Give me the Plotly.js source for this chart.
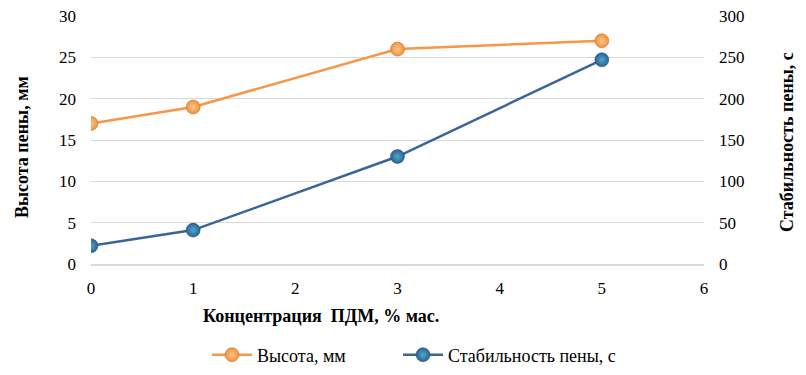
<!DOCTYPE html>
<html><head><meta charset="utf-8">
<script src="https://cdn.plot.ly/plotly-3.0.1.min.js"></script>
<style>html,body{margin:0;padding:0;background:#fff}#chart{width:806px;height:375px}</style>
</head><body><div id="chart"></div>
<script>
const concentration = [0, 1, 3, 5];
const heightMm = [17, 19, 26, 27];
const stabilityS = [22, 41, 130, 247];
const seriesNames = ['Высота, мм', 'Стабильность пены, с'];
const xTitle = 'Концентрация  ПДМ, % мас.';
const yTitle = 'Высота пены, мм';
const y2Title = 'Стабильность пены, с';

const font = 'Liberation Serif';
const traces = [
  {x: concentration, y: heightMm, name: seriesNames[0], type: 'scatter', mode: 'lines+markers',
   legend: 'legend',
   line: {color: '#f79646', width: 2.5},
   marker: {size: 14, color: '#f0923e', line: {color: '#c46a1e', width: 0.5},
            gradient: {type: 'radial', color: '#fbc48a'}}},
  {x: concentration, y: stabilityS, name: seriesNames[1], type: 'scatter', mode: 'lines+markers', yaxis: 'y2',
   legend: 'legend2',
   line: {color: '#3a6598', width: 2.5},
   marker: {size: 14, color: '#2e5f96', line: {color: '#1f4a75', width: 0.5},
            gradient: {type: 'radial', color: '#4bacc6'}}}
];
const legendBase = {orientation: 'h', xanchor: 'left', y: -(355-264)/248, yanchor: 'middle',
  xref: 'paper', font: {family: font, size: 18, color: '#000'}, itemwidth: 40};
const layout = {
  width: 806, height: 375,
  margin: {l: 91, r: 102, t: 16, b: 111, autoexpand: false},
  paper_bgcolor: '#fff', plot_bgcolor: '#fff',
  font: {family: font, size: 17, color: '#000'},
  showlegend: true,
  legend: Object.assign({}, legendBase, {x: (207-91)/613}),
  legend2: Object.assign({}, legendBase, {x: (398-91)/613}),
  xaxis: {range: [0, 6], dtick: 1, showgrid: false, zeroline: false,
          showline: true, linecolor: '#d9d9d9', linewidth: 1.5, ticks: '', ticklabelstandoff: 8,
          tickfont: {family: font, size: 17, color: '#000'}},
  yaxis: {range: [0, 30], dtick: 5, showgrid: true, gridcolor: '#d9d9d9', zeroline: false,
          showline: false, ticks: '', ticklabelstandoff: 14, tickfont: {family: font, size: 17, color: '#000'}},
  yaxis2: {range: [0, 300], dtick: 50, overlaying: 'y', side: 'right', showgrid: false,
           zeroline: false, showline: false, ticks: '', ticklabelstandoff: 14,
           tickfont: {family: font, size: 17, color: '#000'}},
  annotations: [
    {text: '<b>' + xTitle + '</b>', xref: 'paper', yref: 'paper', x: (321-91)/613, y: -(316-264)/248,
     xanchor: 'center', yanchor: 'middle', showarrow: false, font: {family: font, size: 18, color: '#000'}},
    {text: '<b>' + yTitle + '</b>', xref: 'paper', yref: 'paper', x: (22-91)/613, y: (264-147)/248,
     xanchor: 'center', yanchor: 'middle', showarrow: false, textangle: -90, font: {family: font, size: 18, color: '#000'}},
    {text: '<b>' + y2Title + '</b>', xref: 'paper', yref: 'paper', x: (787-91)/613, y: (264-142)/248,
     xanchor: 'center', yanchor: 'middle', showarrow: false, textangle: -90, font: {family: font, size: 18, color: '#000'}}
  ]
};
Plotly.newPlot('chart', traces, layout, {staticPlot: true, displayModeBar: false});
</script></body></html>
